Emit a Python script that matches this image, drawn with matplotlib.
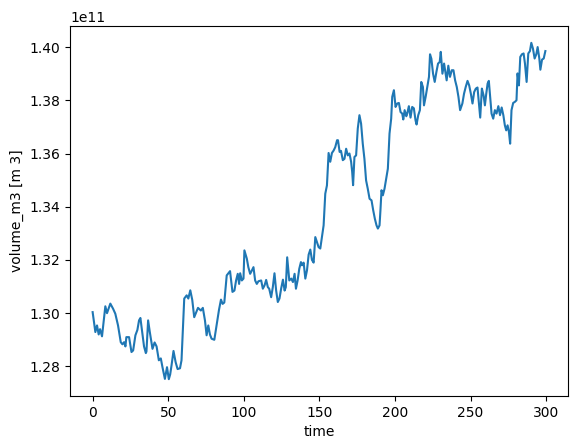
import matplotlib
matplotlib.use("Agg")
import matplotlib.pyplot as plt

# time and volume (units of 1e11 m3)
time = [0, 1.8, 2.9, 4.0, 4.9, 6.2, 8.4, 9.5, 11.7, 13.5, 15.0, 16.8, 18.6, 19.7,
        20.8, 21.7, 22.3, 24.1, 25.7, 26.8, 28.3, 29.6, 30.7, 31.6, 32.7, 34.0,
        35.2, 35.6, 36.7, 37.8, 39.6, 41.0, 42.3, 43.8, 45.1, 46.2, 47.8, 49.2,
        50.4, 51.3, 52.2, 53.5, 54.9, 56.2, 57.8, 58.8, 59.9, 60.6, 62.2, 63.3,
        64.6, 65.9, 67.2, 68.3, 69.7, 71.6, 72.9, 74.3, 75.4, 76.5, 77.6, 78.7,
        80.5, 82.0, 83.6, 84.9, 86.0, 87.1, 88.7, 89.8, 90.9, 92.5, 93.8, 94.9,
        96.0, 96.9, 97.6, 98.7, 99.8, 100.4, 102.0, 103.0, 104.2, 105.3, 106.4,
        107.5, 108.6, 109.7, 111.5, 112.6, 113.7, 114.8, 115.9, 116.8, 118.1,
        119.2, 120.3, 121.4, 122.5, 123.6, 124.7, 125.9, 127.0, 127.8, 128.7,
        130.1, 131.4, 132.5, 133.6, 134.5, 135.6, 136.7, 137.8, 138.5, 139.6,
        140.7, 141.8, 142.9, 144.0, 145.1, 146.2, 147.3, 148.4, 149.5, 150.6,
        151.7, 152.8, 153.9, 155.0, 156.1, 157.2, 158.3, 159.4, 160.5, 161.7,
        162.3, 163.4, 164.3, 165.5, 166.6, 167.7, 168.8, 169.9, 171.0, 171.7,
        172.3, 173.2, 174.3, 175.4, 176.5, 177.6, 178.7, 179.8, 180.9, 182.0,
        183.2, 184.5, 185.6, 186.7, 187.8, 188.7, 189.8, 190.4, 191.1, 192.0,
        193.1, 194.2, 195.3, 196.4, 197.5, 198.2, 199.3, 200.4, 201.5, 202.6,
        203.7, 204.8, 205.5, 206.4, 207.5, 208.1, 209.2, 210.3, 211.4, 212.5,
        213.6, 214.3, 215.4, 216.5, 217.4, 218.5, 219.2, 220.3, 221.4, 222.5,
        223.2, 224.1, 225.2, 226.3, 227.4, 228.5, 229.6, 230.3, 231.4, 232.5,
        234.2, 235.3, 236.4, 237.6, 238.7, 239.8, 240.9, 242.0, 243.1, 244.6,
        245.7, 246.8, 248.0, 249.1, 250.2, 251.3, 252.4, 253.5, 254.6, 255.7,
        256.4, 257.5, 258.6, 259.5, 260.4, 261.3, 262.1, 263.0, 263.9, 265.0,
        266.1, 267.2, 268.4, 269.5, 270.6, 271.7, 272.7, 273.6, 274.5, 275.4,
        276.2, 277.1, 278.2, 279.3, 280.4, 281.1, 282.0, 282.9, 284.0, 285.1,
        286.0, 287.1, 288.2, 289.3, 290.2, 291.3, 292.4, 293.5, 294.4, 295.5,
        296.2, 297.3, 298.4, 299.5]

volume = [1.3004, 1.2929, 1.2954, 1.2920, 1.2940, 1.2913, 1.3026, 1.3000, 1.3036,
          1.3017, 1.2998, 1.2954, 1.2891, 1.2883, 1.2891, 1.2875, 1.2910, 1.2910,
          1.2854, 1.2860, 1.2917, 1.2937, 1.2973, 1.2982, 1.2933, 1.2875, 1.2850,
          1.2856, 1.2973, 1.2930, 1.2866, 1.2890, 1.2875, 1.2823, 1.2830, 1.2797,
          1.2753, 1.2797, 1.2752, 1.2770, 1.2804, 1.2858, 1.2816, 1.2790, 1.2793,
          1.2823, 1.2960, 1.3055, 1.3067, 1.3055, 1.3086, 1.3050, 1.2985, 1.3000,
          1.3020, 1.3010, 1.3020, 1.2973, 1.2917, 1.2954, 1.2920, 1.2904, 1.2900,
          1.2954, 1.3013, 1.3051, 1.3035, 1.3040, 1.3142, 1.3150, 1.3158, 1.3080,
          1.3085, 1.3123, 1.3148, 1.3110, 1.3150, 1.3123, 1.3130, 1.3236, 1.3205,
          1.3173, 1.3148, 1.3160, 1.3173, 1.3123, 1.3110, 1.3120, 1.3123, 1.3092,
          1.3104, 1.3125, 1.3098, 1.3092, 1.3060, 1.3098, 1.3150, 1.3085, 1.3042,
          1.3055, 1.3092, 1.3126, 1.3085, 1.3098, 1.3210, 1.3123, 1.3130, 1.3117,
          1.3148, 1.3092, 1.3123, 1.3167, 1.3192, 1.3180, 1.3190, 1.3130, 1.3161,
          1.3220, 1.3239, 1.3200, 1.3190, 1.3286, 1.3267, 1.3248, 1.3243, 1.3286,
          1.3330, 1.3449, 1.3480, 1.3602, 1.3569, 1.3602, 1.3611, 1.3624, 1.3650,
          1.3650, 1.3606, 1.3610, 1.3575, 1.3580, 1.3618, 1.3593, 1.3600, 1.3569,
          1.3531, 1.3481, 1.3587, 1.3593, 1.3694, 1.3744, 1.3712, 1.3637, 1.3580,
          1.3499, 1.3468, 1.3430, 1.3424, 1.3387, 1.3355, 1.3330, 1.3318, 1.3330,
          1.3387, 1.3462, 1.3443, 1.3468, 1.3506, 1.3543, 1.3675, 1.3731, 1.3813,
          1.3838, 1.3775, 1.3788, 1.3790, 1.3756, 1.3750, 1.3728, 1.3763, 1.3740,
          1.3750, 1.3778, 1.3735, 1.3775, 1.3770, 1.3725, 1.3709, 1.3744, 1.3763,
          1.3869, 1.3850, 1.3781, 1.3813, 1.3850, 1.3888, 1.3973, 1.3956, 1.3900,
          1.3869, 1.3906, 1.3938, 1.3944, 1.3982, 1.3900, 1.3938, 1.3875, 1.3930,
          1.3888, 1.3913, 1.3913, 1.3875, 1.3850, 1.3813, 1.3763, 1.3788, 1.3825,
          1.3850, 1.3873, 1.3856, 1.3825, 1.3788, 1.3831, 1.3844, 1.3848, 1.3781,
          1.3735, 1.3844, 1.3819, 1.3781, 1.3825, 1.3863, 1.3873, 1.3813, 1.3750,
          1.3731, 1.3763, 1.3750, 1.3778, 1.3744, 1.3773, 1.3744, 1.3706, 1.3687,
          1.3706, 1.3681, 1.3637, 1.3763, 1.3790, 1.3794, 1.3800, 1.3901, 1.3856,
          1.3963, 1.3973, 1.3976, 1.3938, 1.3869, 1.3976, 1.3985, 1.4016, 1.3994,
          1.3957, 1.3973, 1.4000, 1.3957, 1.3915, 1.3953, 1.3957, 1.3985]

volume_m3 = [v * 1e11 for v in volume]

fig = plt.figure(figsize=(5.76, 4.48), dpi=100)
ax = fig.add_axes([70 / 576, 1 - 396 / 448, (568 - 70) / 576, (396 - 26) / 448])
ax.plot(time, volume_m3, color="#1f77b4")
ax.set_xlabel("time")
ax.set_ylabel("volume_m3 [m 3]")

fig.savefig("out.png", dpi=100)
